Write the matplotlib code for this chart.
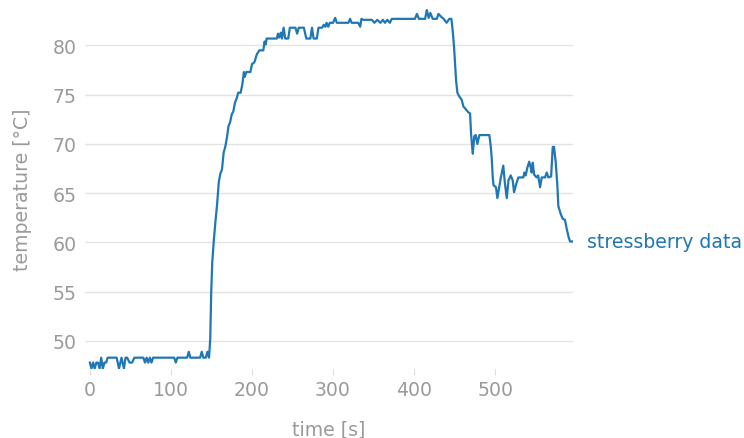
import matplotlib
matplotlib.use("Agg")
import matplotlib.pyplot as plt

# time [s] and temperature [°C]
time = [0, 2, 4, 6, 8, 10, 12, 14, 16, 18, 20, 22, 31, 33, 36, 39, 42, 44, 46, 49,
        52, 55, 66, 68, 70, 72, 74, 76, 78, 104, 106, 108, 120, 122, 124, 136, 138, 140,
        143, 145, 147, 148.5, 149.7, 151, 153, 155, 157, 159, 161, 163, 165, 167, 169,
        171, 173, 175, 177, 179, 181, 183, 186, 188, 190, 191, 193, 198, 200, 203, 206,
        209, 214, 215.5, 217, 218, 230.6, 232, 233.5, 235.5, 237, 239, 241, 244.7,
        246.7, 253.6, 255.7, 257.7, 264, 267, 272, 274, 276, 280, 282, 286.5, 288.5,
        290.5, 292, 294, 296, 300, 302.6, 304.7, 319, 321, 323, 331, 333.5, 335, 337.5,
        348, 351, 354.5, 358.5, 361.5, 364, 367, 370, 372.5, 401, 403.5, 406, 413.6,
        415.6, 418, 420, 423, 428, 430, 433.5, 436.5, 440, 443.5, 446, 447.7, 449.3,
        450.5, 451.8, 453.4, 455.9, 458.6, 460.8, 464, 467, 469, 470.3, 472.3, 474.3,
        476, 478, 480.5, 492.8, 494.5, 495.8, 497, 498, 501, 502.7, 505, 507, 510, 512,
        514.3, 516.4, 519.2, 521.6, 523.3, 525.8, 528.6, 534.7, 536, 537.6, 539.7, 542,
        543.8, 545, 546.4, 548, 551, 553, 555.4, 557.4, 561.5, 563.6, 565.6, 569, 571,
        572.6, 574.7, 576.7, 577.9, 580.8, 583.3, 586, 588.2, 590.7, 592.4, 595]
temp = [47.8, 47.2, 47.8, 47.2, 47.8, 47.8, 47.2, 48.3, 47.2, 47.8, 47.8, 48.3, 48.3,
        48.3, 47.2, 48.3, 47.2, 48.3, 48.3, 47.8, 47.8, 48.3, 48.3, 47.8, 48.3, 47.8,
        48.3, 47.8, 48.3, 48.3, 47.8, 48.3, 48.3, 48.9, 48.3, 48.3, 48.9, 48.3, 48.3,
        48.9, 48.3, 50.2, 55.0, 58.0, 60.3, 62.2, 63.9, 66.1, 67.0, 67.4, 69.1, 69.7,
        70.6, 71.8, 72.2, 73.0, 73.3, 74.2, 74.6, 75.2, 75.2, 76.0, 77.3, 76.8, 77.3,
        77.3, 78.1, 78.3, 79.1, 79.5, 79.5, 80.4, 80.1, 80.7, 80.7, 81.2, 80.8, 81.3,
        80.7, 81.8, 80.7, 80.7, 81.8, 81.8, 81.2, 81.8, 81.8, 80.7, 80.7, 81.8, 80.7,
        80.7, 81.8, 81.8, 82.1, 81.9, 82.3, 81.9, 82.3, 82.3, 82.8, 82.3, 82.3, 82.7,
        82.3, 82.3, 81.9, 82.7, 82.6, 82.6, 82.3, 82.6, 82.3, 82.6, 82.3, 82.6, 82.3,
        82.7, 82.7, 83.2, 82.7, 82.7, 83.6, 82.8, 83.3, 82.7, 82.7, 83.2, 82.9, 82.7,
        82.3, 82.7, 82.7, 81.4, 79.8, 78.1, 76.4, 75.2, 74.8, 74.5, 73.8, 73.5, 73.2,
        73.1, 71.0, 69.0, 70.8, 70.9, 70.0, 70.9, 70.9, 69.8, 68.5, 66.6, 65.8, 65.6,
        64.5, 65.6, 66.6, 67.8, 66.0, 64.5, 66.3, 66.8, 66.3, 65.1, 65.9, 66.6, 66.6,
        67.1, 66.8, 67.6, 68.2, 67.6, 67.1, 68.1, 66.9, 66.6, 66.8, 65.6, 66.6, 66.6,
        67.1, 66.6, 66.7, 69.7, 69.7, 68.1, 65.8, 63.7, 62.9, 62.4, 62.3, 61.4, 60.5,
        60.1, 60.1]
series_label = "stressberry data"

gray = "#9a9a9a"
fs = 13.6
plt.rcParams["font.family"] = "DejaVu Sans"
plt.rcParams["font.size"] = fs

fig = plt.figure(figsize=(7.44, 4.39), dpi=100)
ax = fig.add_axes([85 / 744, 1 - 370 / 439, (573 - 85) / 744, 360 / 439])

ax.plot(time, temp, color="#1f77b4", lw=1.6)
ax.set_xlim(-6, 596)
ax.set_ylim(min(temp) - 0.05, max(temp) + 0.1)
ax.set_yticks([50, 55, 60, 65, 70, 75, 80])
ax.set_xticks([0, 100, 200, 300, 400, 500])

for s in ax.spines.values():
    s.set_visible(False)
ax.grid(axis="y", color="#e3e3e3", lw=1)
ax.set_axisbelow(True)
ax.tick_params(axis="y", length=0, pad=6, colors=gray, labelsize=fs)
ax.tick_params(axis="x", length=4, width=0.8, pad=4, colors=gray, labelsize=fs,
               color="#dddddd")

ax.set_xlabel("time [s]", color=gray, labelpad=15, fontsize=fs)
ax.set_ylabel("temperature [°C]", color=gray, labelpad=15, fontsize=fs)

ax.annotate(series_label, xy=(time[-1], temp[-1]), xytext=(15, 0),
            textcoords="offset pixels", va="center", ha="left",
            color="#1f77b4", fontsize=fs, annotation_clip=False)

fig.savefig("out.png", dpi=100)
